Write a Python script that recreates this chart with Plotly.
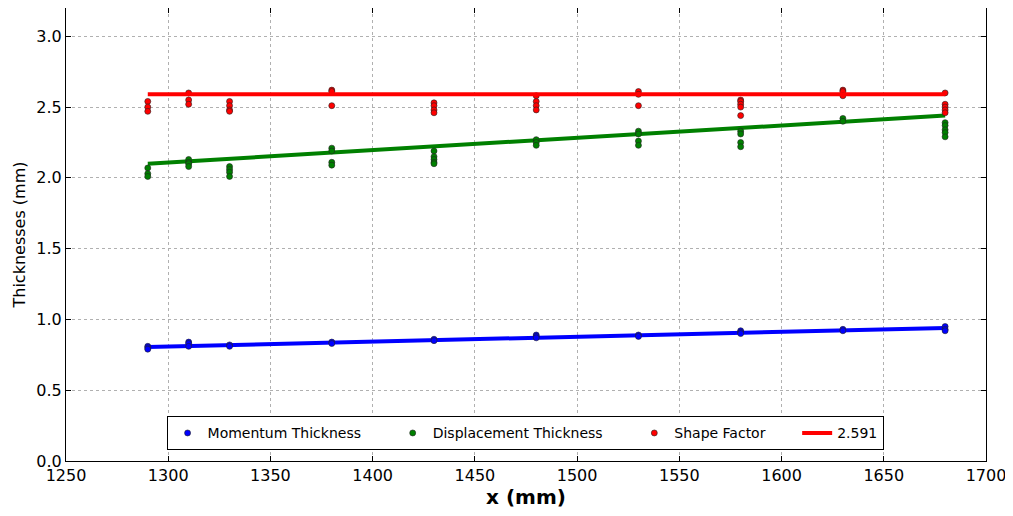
import plotly.graph_objects as go

# ---- data ----
x_positions = [1290, 1310, 1330, 1380, 1430, 1480, 1530, 1580, 1630, 1680]

momentum = [
    [0.81, 0.80, 0.79],
    [0.84, 0.83, 0.81],
    [0.82, 0.81],
    [0.84, 0.83],
    [0.86, 0.85],
    [0.89, 0.88, 0.87],
    [0.89, 0.88],
    [0.92, 0.91, 0.90],
    [0.93, 0.92],
    [0.95, 0.93, 0.92],
]
displacement = [
    [2.07, 2.03, 2.01],
    [2.13, 2.11, 2.10, 2.08],
    [2.08, 2.06, 2.04, 2.01],
    [2.21, 2.19, 2.11, 2.09],
    [2.19, 2.15, 2.13, 2.11, 2.10],
    [2.27, 2.25, 2.23],
    [2.33, 2.31, 2.26, 2.23],
    [2.33, 2.31, 2.25, 2.22],
    [2.42, 2.40],
    [2.39, 2.37, 2.34, 2.32, 2.29],
]
shape_factor = [
    [2.54, 2.50, 2.47],
    [2.60, 2.55, 2.52],
    [2.54, 2.51, 2.48, 2.47],
    [2.62, 2.61, 2.51],
    [2.53, 2.51, 2.48, 2.46],
    [2.58, 2.54, 2.51, 2.48],
    [2.61, 2.59, 2.51],
    [2.55, 2.54, 2.52, 2.50, 2.44],
    [2.62, 2.61, 2.58],
    [2.60, 2.52, 2.50, 2.48, 2.46],
]
fit_x = [1290, 1680]
momentum_fit = [0.805, 0.94]
displacement_fit = [2.10, 2.44]
shape_mean = 2.591

x_ticks = [1250, 1300, 1350, 1400, 1450, 1500, 1550, 1600, 1650, 1700]
y_ticks = [0.0, 0.5, 1.0, 1.5, 2.0, 2.5, 3.0]


def flatten(groups):
    xs, ys = [], []
    for xv, vals in zip(x_positions, groups):
        for v in vals:
            xs.append(xv)
            ys.append(v)
    return xs, ys


fig = go.Figure()

fig.add_trace(go.Scatter(x=fit_x, y=momentum_fit, mode="lines",
                         line=dict(color="#0000ff", width=4), showlegend=False))
fig.add_trace(go.Scatter(x=fit_x, y=displacement_fit, mode="lines",
                         line=dict(color="#008000", width=4), showlegend=False))

marker_line = dict(color="#222222", width=0.6)
mx, my = flatten(momentum)
fig.add_trace(go.Scatter(x=mx, y=my, mode="markers", name="Momentum Thickness      ",
                         marker=dict(color="#0000ff", size=6, line=marker_line)))
dx, dy = flatten(displacement)
fig.add_trace(go.Scatter(x=dx, y=dy, mode="markers", name="Displacement Thickness      ",
                         marker=dict(color="#008000", size=6, line=marker_line)))
sx, sy = flatten(shape_factor)
fig.add_trace(go.Scatter(x=sx, y=sy, mode="markers", name="Shape Factor      ",
                         marker=dict(color="#ff0000", size=6, line=marker_line)))
fig.add_trace(go.Scatter(x=fit_x, y=[shape_mean, shape_mean], mode="lines",
                         name=f"{shape_mean}",
                         line=dict(color="#ff0000", width=4)))

axis_common = dict(
    showline=True, linecolor="black", linewidth=1, mirror="ticks",
    ticks="inside", ticklen=5, tickcolor="black",
    showgrid=True, gridcolor="#b0b0b0", griddash="dot", gridwidth=1,
    zeroline=False, automargin=False,
    tickfont=dict(family="DejaVu Sans", size=16, color="black"),
)

fig.update_layout(
    width=1005, height=508,
    margin=dict(l=58, r=27, t=0, b=55),
    paper_bgcolor="white", plot_bgcolor="white",
    font=dict(family="DejaVu Sans", color="black"),
    xaxis=dict(range=[1250, 1700], tickvals=x_ticks,
               title=dict(text="<b>x (mm)</b>", font=dict(size=20), standoff=4),
               **axis_common),
    yaxis=dict(range=[0, 3.2], tickvals=y_ticks, tickformat=".1f",
               title=dict(text="Thicknesses (mm)", font=dict(size=16), standoff=6),
               **axis_common),
    legend=dict(orientation="h", x=0.499, y=0.061, xanchor="center", yanchor="middle",
                bgcolor="white", bordercolor="black", borderwidth=1,
                font=dict(size=14, family="DejaVu Sans"),
                itemwidth=30, traceorder="normal"),
)

fig.write_html("out.html")
